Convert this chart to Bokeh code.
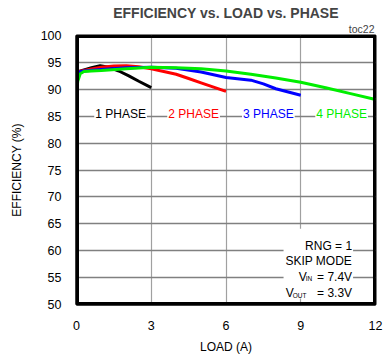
from bokeh.plotting import figure
from bokeh.models import Label, BoxAnnotation, FixedTicker, Range1d, Title
from bokeh.embed import file_html
from bokeh.resources import INLINE

# ---- data ----
x1 = [0, 0.1, 0.3, 0.6, 0.95, 1.3, 1.7, 2.1, 2.5, 3.0]
y1 = [92.6, 93.3, 93.6, 94.0, 94.4, 94.1, 93.4, 92.5, 91.5, 90.3]

x2 = [0, 0.1, 0.3, 0.6, 1.0, 1.5, 2.0, 2.5, 3.0, 3.5, 4.0, 4.5, 5.0, 5.5, 6.0]
y2 = [92.9, 93.3, 93.5, 93.8, 94.1, 94.35, 94.4, 94.2, 93.8, 93.3, 92.8, 92.0, 91.2, 90.4, 89.6]

x3 = [0, 0.1, 0.3, 1, 2, 3, 4, 5, 6, 7, 7.5, 8, 8.5, 9]
y3 = [92.9, 93.2, 93.4, 93.7, 94.0, 94.1, 93.9, 93.2, 92.2, 91.7, 91.0, 90.1, 89.5, 88.9]

x4 = [0, 0.05, 0.15, 0.3, 0.6, 1, 2, 3, 4, 5, 6, 7, 8, 9, 10, 11, 12]
y4 = [89.1, 91.5, 92.9, 93.3, 93.4, 93.5, 93.8, 94.1, 94.0, 93.8, 93.4, 92.8, 92.1, 91.3, 90.3, 89.2, 88.1]

series_names = ["1 PHASE", "2 PHASE", "3 PHASE", "4 PHASE"]
series_colors = ["#000000", "#FF0000", "#0000FF", "#00EE00"]

x_ticks = [0, 3, 6, 9, 12]
y_ticks = [50, 55, 60, 65, 70, 75, 80, 85, 90, 95, 100]

FONT = "Liberation Sans"

x0, x_end = x_ticks[0], x_ticks[-1]
y0, y_end = y_ticks[0], y_ticks[-1]

p = figure(width=383, height=358, output_backend="svg", toolbar_location=None,
           x_range=Range1d(x0, x_end), y_range=Range1d(y0, y_end),
           min_border_left=76, min_border_right=8, min_border_top=35, min_border_bottom=54)
p.outline_line_color = "black"
p.outline_line_width = 2
p.outline_line_alpha = 1.0

# titles (first added sits closest to the frame)
p.add_layout(Title(text="toc22", align="right", text_font=FONT, text_font_size="10.5px",
                   text_font_style="normal", standoff=1, offset=1), "above")
p.add_layout(Title(text="EFFICIENCY vs. LOAD vs. PHASE", align="center", text_font=FONT,
                   text_font_size="14px", text_font_style="bold", standoff=0, offset=1.5), "above")

for ax in (p.xaxis[0], p.yaxis[0]):
    ax.axis_line_color = "black"
    ax.axis_line_width = 2
    ax.major_tick_line_color = None
    ax.minor_tick_line_color = None
    ax.major_label_text_font = FONT
    ax.major_label_text_font_size = "12.5px"
    ax.major_label_text_color = "black"
    ax.axis_label_text_font = FONT
    ax.axis_label_text_font_size = "12px"
    ax.axis_label_text_font_style = "normal"
    ax.axis_label_text_color = "black"
p.xaxis.ticker = FixedTicker(ticks=x_ticks)
p.yaxis.ticker = FixedTicker(ticks=y_ticks)
p.xaxis.major_label_standoff = 10
p.yaxis.major_label_standoff = 9
p.xaxis.axis_label = "LOAD (A)"
p.yaxis.axis_label = "EFFICIENCY (%)"
p.xaxis.axis_label_standoff = 7
p.yaxis.axis_label_standoff = 14

p.xgrid.ticker = FixedTicker(ticks=x_ticks[1:-1])
p.ygrid.ticker = FixedTicker(ticks=y_ticks[1:-1])
p.xgrid.grid_line_color = "#A0A0A0"
p.xgrid.grid_line_width = 1.2
p.ygrid.grid_line_color = "#808080"
p.ygrid.grid_line_width = 1.6

for xs, ys, c in zip([x1, x2, x3, x4], [y1, y2, y3, y4], series_colors):
    p.line(xs, ys, line_color=c, line_width=3)

# heavy black plot-area border along the axis range limits (half is clipped by the frame)
p.line([x0, x_end, x_end, x0, x0], [y0, y0, y_end, y_end, y0], line_color="black", line_width=5)

# phase labels with white backgrounds
label_x = [1.77, 4.70, 7.70, 10.64]
for name, c, lx in zip(series_names, series_colors, label_x):
    p.add_layout(Label(x=lx, y=85.45, text=name, text_align="center", text_baseline="alphabetic",
                       text_font=FONT, text_font_size="12px", text_color=c,
                       background_fill_color="white", padding=1))

# info box
p.add_layout(BoxAnnotation(left=8.31, right=11.1, bottom=51.1, top=64.1,
                           fill_color="white", fill_alpha=1.0, line_alpha=0))
info_kw = dict(text_font=FONT, text_font_size="12px", text_color="black",
               text_align="right", text_baseline="alphabetic")
sub_kw = dict(text_font=FONT, text_font_size="6.5px", text_color="black",
              text_align="right", text_baseline="alphabetic")
p.add_layout(Label(x=11.06, y=60.84, text="RNG = 1", **info_kw))
p.add_layout(Label(x=11.06, y=58.05, text="SKIP MODE", **info_kw))
p.add_layout(Label(x=11.06, y=55.2, text="= 7.4V", **info_kw))
p.add_layout(Label(x=9.24, y=55.2, text="V", **info_kw))
p.add_layout(Label(x=9.46, y=54.83, text="IN", **sub_kw))
p.add_layout(Label(x=11.06, y=52.1, text="= 3.3V", **info_kw))
p.add_layout(Label(x=8.72, y=52.1, text="V", **info_kw))
p.add_layout(Label(x=9.23, y=51.67, text="OUT", **sub_kw))

open("out.html", "w").write(file_html(p, INLINE))
